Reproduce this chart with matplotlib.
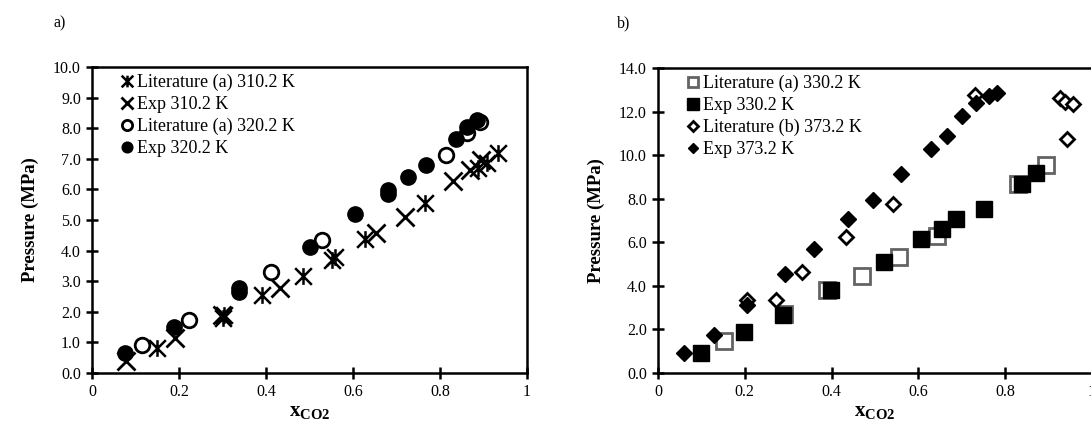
import numpy as np
import matplotlib.pyplot as plt
from matplotlib.path import Path
from matplotlib.ticker import FuncFormatter

plt.rcParams['font.family'] = 'Liberation Serif'
plt.rcParams['mathtext.fontset'] = 'custom'
plt.rcParams['mathtext.rm'] = 'Liberation Serif'
plt.rcParams['mathtext.bf'] = 'Liberation Serif:bold'

# ---- panel a) data ----
lit310_x = [0.149, 0.300, 0.304, 0.391, 0.484, 0.552, 0.558, 0.628, 0.766, 0.888, 0.907, 0.934]
lit310_p = [0.81, 1.80, 1.88, 2.55, 3.18, 3.70, 3.80, 4.38, 5.55, 6.69, 6.85, 7.20]
exp310_x = [0.078, 0.191, 0.298, 0.432, 0.652, 0.720, 0.831, 0.869, 0.895]
exp310_p = [0.40, 1.13, 1.90, 2.77, 4.56, 5.11, 6.28, 6.63, 6.95]
lit320_x = [0.114, 0.224, 0.411, 0.528, 0.813, 0.861, 0.892]
lit320_p = [0.91, 1.73, 3.31, 4.35, 7.12, 7.83, 8.21]
exp320_x = [0.076, 0.189, 0.337, 0.338, 0.500, 0.605, 0.680, 0.681, 0.726, 0.767, 0.836, 0.861, 0.885]
exp320_p = [0.66, 1.51, 2.65, 2.78, 4.11, 5.20, 5.85, 5.98, 6.39, 6.80, 7.64, 8.05, 8.27]

# ---- panel b) data ----
lit330_x = [0.151, 0.290, 0.389, 0.469, 0.556, 0.642, 0.830, 0.894]
lit330_p = [1.45, 2.70, 3.83, 4.45, 5.34, 6.27, 8.68, 9.53]
exp330_x = [0.100, 0.199, 0.287, 0.399, 0.521, 0.606, 0.654, 0.687, 0.750, 0.838, 0.871]
exp330_p = [0.94, 1.86, 2.68, 3.83, 5.10, 6.14, 6.60, 7.07, 7.53, 8.68, 9.18]
lit373_x = [0.204, 0.273, 0.331, 0.433, 0.542, 0.730, 0.926, 0.938, 0.957, 0.942]
lit373_p = [3.37, 3.37, 4.63, 6.22, 7.76, 12.77, 12.61, 12.46, 12.35, 10.76]
exp373_x = [0.061, 0.130, 0.204, 0.293, 0.360, 0.438, 0.496, 0.561, 0.629, 0.665, 0.700, 0.733, 0.762, 0.781]
exp373_p = [0.94, 1.76, 3.12, 4.53, 5.68, 7.07, 7.94, 9.15, 10.30, 10.87, 11.81, 12.38, 12.70, 12.85]

star = Path([(-1, -1), (1, 1), (-1, 1), (1, -1), (0, -1), (0, 1)],
            [Path.MOVETO, Path.LINETO] * 3)
grey = '#636363'

fig = plt.figure(figsize=(10.91, 4.29), dpi=100)
ax1 = fig.add_axes([92 / 1091, 56 / 429, 435 / 1091, 306 / 429])
ax2 = fig.add_axes([658 / 1091, 56 / 429, 434 / 1091, 305 / 429])

ax1.plot(lit310_x, lit310_p, ls='none', marker=star, ms=12, mew=1.8, mfc='none', mec='black',
         label='Literature (a) 310.2 K')
ax1.plot(exp310_x, exp310_p, ls='none', marker='x', ms=12.5, mew=2.0, mec='black',
         label='Exp 310.2 K')
ax1.plot(lit320_x, lit320_p, ls='none', marker='o', ms=10.5, mew=2.0, mfc='white', mec='black',
         label='Literature (a) 320.2 K')
ax1.plot(exp320_x, exp320_p, ls='none', marker='o', ms=11, mew=1, mfc='black', mec='black',
         label='Exp 320.2 K')

ax2.plot(lit330_x, lit330_p, ls='none', marker='s', ms=11, mew=2.0, mfc='white', mec=grey,
         label='Literature (a) 330.2 K')
ax2.plot(exp330_x, exp330_p, ls='none', marker='s', ms=12, mew=1, mfc='black', mec='black',
         label='Exp 330.2 K')
ax2.plot(lit373_x, lit373_p, ls='none', marker='D', ms=7.5, mew=2.0, mfc='white', mec='black',
         label='Literature (b) 373.2 K')
ax2.plot(exp373_x, exp373_p, ls='none', marker='D', ms=8, mew=1, mfc='black', mec='black',
         label='Exp 373.2 K')

for ax, ymax, ystep in [(ax1, 10, 1), (ax2, 14, 2)]:
    ax.set_xlim(0, 1)
    ax.set_ylim(0, ymax)
    ax.set_xticks(np.arange(0, 1.01, 0.2))
    ax.set_yticks(np.arange(0, ymax + 0.01, ystep))
    ax.xaxis.set_major_formatter(FuncFormatter(lambda v, p: f'{v:g}'))
    ax.yaxis.set_major_formatter(FuncFormatter(lambda v, p: f'{v:.1f}'))
    ax.tick_params(direction='inout', length=8, width=1.8, labelsize=11.5, pad=4)
    for s in ax.spines.values():
        s.set_linewidth(1.8)
    ax.set_xlabel(r'$\mathbf{x}_{\mathbf{CO2}}$', fontsize=15, labelpad=2)
    ax.set_ylabel('Pressure (MPa)', fontsize=13.5, fontweight='bold', labelpad=10)
    ax.legend(loc='upper left', bbox_to_anchor=(0.06, 0.99), frameon=False, fontsize=13,
              numpoints=1, handlelength=0.6, handletextpad=0.25, labelspacing=0.28,
              markerscale=0.7, borderaxespad=0, borderpad=0.2)

fig.text(53 / 1091, 1 - 23 / 429, 'a)', fontsize=11.5, va='center', ha='left')
fig.text(617 / 1091, 1 - 23 / 429, 'b)', fontsize=11.5, va='center', ha='left')

fig.savefig('out.png', dpi=100)
